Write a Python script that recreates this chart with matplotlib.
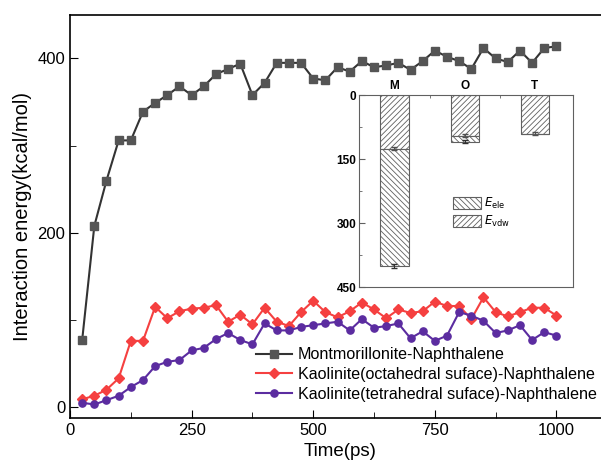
import matplotlib
matplotlib.use('Agg')
import matplotlib.pyplot as plt
from matplotlib.ticker import MultipleLocator, FixedLocator

plt.rcParams['font.family'] = ['Liberation Sans', 'DejaVu Sans']
plt.rcParams['hatch.color'] = '#707070'
plt.rcParams['hatch.linewidth'] = 0.6

time_ps = list(range(25, 1001, 25))

mont = [77, 208, 260, 306, 306, 339, 349, 358, 368, 358,
        368, 382, 388, 394, 358, 372, 395, 395, 395, 377,
        375, 390, 385, 397, 390, 392, 395, 387, 397, 409,
        402, 397, 388, 412, 400, 396, 409, 395, 412, 414]
kao_oct = [9, 13, 20, 33, 76, 76, 115, 102, 110, 113,
           114, 117, 98, 106, 95, 114, 98, 93, 109, 122,
           109, 103, 110, 120, 112, 102, 112, 108, 110, 121,
           116, 116, 101, 126, 109, 104, 109, 114, 114, 105]
kao_tet = [5, 3, 8, 13, 23, 31, 47, 52, 54, 65,
           68, 78, 85, 77, 72, 96, 88, 88, 92, 94,
           96, 98, 88, 101, 91, 93, 96, 79, 87, 76,
           82, 109, 105, 99, 85, 88, 94, 77, 86, 82]

labels = ['Montmorillonite-Naphthalene',
          'Kaolinite(octahedral suface)-Naphthalene',
          'Kaolinite(tetrahedral suface)-Naphthalene']

# inset: energy components
systems = ['M', 'O', 'T']
e_vdw = [125, 95, 90]
e_ele = [275, 14, 1]
err_vdw = [3, 3, 4]
err_tot = [5, 4, 2]

fig = plt.figure(figsize=(6.01, 4.72), dpi=100)
ax = fig.add_axes([0.1165, 0.1144, 0.9, 0.854])

ax.plot(time_ps, mont, color='#333333', marker='s', ms=5.8, mfc='#555555', mec='#555555',
        lw=1.5, label=labels[0])
ax.plot(time_ps, kao_oct, color='#f54040', marker='D', ms=5.2, lw=1.5, label=labels[1])
ax.plot(time_ps, kao_tet, color='#5b2ca0', marker='o', ms=5.2, lw=1.5, label=labels[2])

ax.set_xlim(0, 1112)
ax.set_ylim(-12.5, 450)
ax.xaxis.set_major_locator(MultipleLocator(250))
ax.xaxis.set_minor_locator(MultipleLocator(125))
ax.yaxis.set_major_locator(MultipleLocator(200))
ax.yaxis.set_minor_locator(MultipleLocator(100))
ax.tick_params(which='both', direction='in', labelsize=12)
ax.tick_params(which='major', length=6)
ax.tick_params(which='minor', length=4)
for s in ax.spines.values():
    s.set_linewidth(1.2)
ax.set_xlabel('Time(ps)', fontsize=13.5)
ax.set_ylabel('Interaction energy(kcal/mol)', fontsize=14.5)
ax.legend(loc='lower right', bbox_to_anchor=(0.995, 0.012), frameon=False, fontsize=11.6,
          handlelength=2.2, handletextpad=0.4, labelspacing=0.3, borderpad=0.2)

# inset bar chart
ins = fig.add_axes([0.598, 0.391, 0.356, 0.4074])
xpos = [1, 2, 3]
ins.bar(xpos, e_vdw, width=0.4, color='white', edgecolor='#606060', hatch='//////',
        lw=0.8, label='$\\mathbf{\\it{E}}_{\\mathrm{vdw}}$')
ins.bar(xpos, e_ele, width=0.4, bottom=e_vdw, color='white', edgecolor='#606060',
        hatch='\\\\\\\\\\\\', lw=0.8, label='$\\mathbf{\\it{E}}_{\\mathrm{ele}}$')
ins.errorbar(xpos, e_vdw, yerr=err_vdw, fmt='none', ecolor='#505050', elinewidth=0.8, capsize=2)
tot = [a + b for a, b in zip(e_vdw, e_ele)]
ins.errorbar(xpos[:2], tot[:2], yerr=err_tot[:2], fmt='none', ecolor='#303030',
             elinewidth=0.8, capsize=2)
ins.set_xlim(0.5, 3.55)
ins.set_ylim(450, 0)
ins.xaxis.tick_top()
ins.set_xticks(xpos)
ins.set_xticklabels(systems, fontweight='bold', fontsize=9)
ins.xaxis.set_minor_locator(FixedLocator([1.5, 2.5]))
ins.yaxis.set_major_locator(MultipleLocator(150))
ins.yaxis.set_minor_locator(MultipleLocator(75))
ins.tick_params(which='both', direction='in', labelsize=8.5, pad=2, colors='#606060',
                labelcolor='black')
ins.tick_params(which='major', length=0, axis='x')
ins.tick_params(which='major', length=4, axis='y')
ins.tick_params(which='minor', length=2)
for t in ins.get_yticklabels():
    t.set_fontweight('bold')
for s in ins.spines.values():
    s.set_color('#606060')
    s.set_linewidth(0.8)
h, l = ins.get_legend_handles_labels()
ins.legend(h[::-1], l[::-1], loc='center', bbox_to_anchor=(0.57, 0.39), frameon=False,
           fontsize=8.5, handlelength=2.4, handleheight=1.2, handletextpad=0.2,
           labelspacing=0.2)

fig.savefig('out.png', dpi=100)
